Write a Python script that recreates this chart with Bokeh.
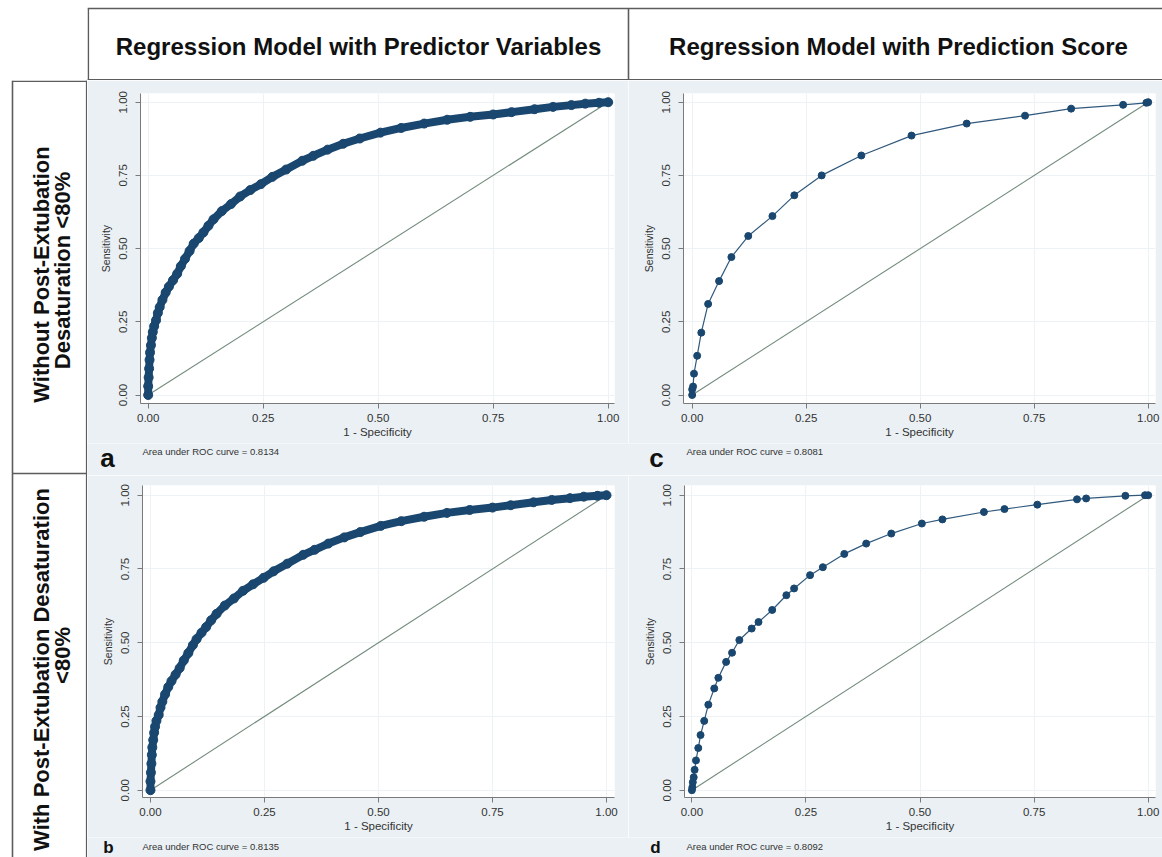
from math import pi
from bokeh.plotting import figure
from bokeh.models import Range1d, FixedTicker, Spacer
from bokeh.layouts import row, column
from bokeh.core.properties import value
from bokeh.embed import file_html
from bokeh.resources import INLINE

# ---------------- data ----------------
tick_vals = [0, 0.25, 0.5, 0.75, 1]
tick_labels = ["0.00", "0.25", "0.50", "0.75", "1.00"]
diag = [0, 1]

col_headers = ["Regression Model with Predictor Variables",
               "Regression Model with Prediction Score"]
row_headers_1 = ["Without  Post-Extubation", "Desaturation <80%"]
row_headers_2 = ["With Post-Extubation Desaturation", "<80%"]
letters = ["a", "b", "c", "d"]
auc_values = ["0.8134", "0.8135", "0.8081", "0.8092"]

# panel a : predictor variables, without desaturation (dense ROC)
a_fpr = [0.000, 0.000, 0.001, 0.002, 0.003, 0.004, 0.006, 0.008, 0.010, 0.013,
         0.017, 0.021, 0.025, 0.031, 0.038, 0.045, 0.054, 0.063, 0.071, 0.080,
         0.090, 0.099, 0.110, 0.120, 0.131, 0.142, 0.160, 0.180, 0.200, 0.222,
         0.245, 0.270, 0.300, 0.335, 0.359, 0.390, 0.424, 0.460, 0.505, 0.550,
         0.600, 0.650, 0.700, 0.750, 0.790, 0.840, 0.880, 0.920, 0.950, 0.980, 1.000]
a_tpr = [0.000, 0.030, 0.060, 0.090, 0.120, 0.145, 0.170, 0.195, 0.215, 0.235,
         0.255, 0.280, 0.300, 0.325, 0.350, 0.370, 0.392, 0.414, 0.440, 0.465,
         0.492, 0.517, 0.536, 0.555, 0.578, 0.600, 0.628, 0.652, 0.678, 0.700,
         0.720, 0.745, 0.770, 0.800, 0.817, 0.838, 0.858, 0.876, 0.896, 0.912,
         0.927, 0.940, 0.950, 0.958, 0.966, 0.976, 0.984, 0.990, 0.995, 0.998, 1.000]

# panel b : predictor variables, with desaturation (dense ROC)
b_fpr = [0.000, 0.000, 0.001, 0.002, 0.003, 0.004, 0.006, 0.008, 0.010, 0.013,
         0.018, 0.022, 0.026, 0.032, 0.039, 0.046, 0.055, 0.064, 0.073, 0.083,
         0.093, 0.101, 0.112, 0.122, 0.133, 0.145, 0.163, 0.183, 0.203, 0.225,
         0.248, 0.270, 0.300, 0.335, 0.360, 0.390, 0.425, 0.460, 0.505, 0.550,
         0.600, 0.650, 0.700, 0.750, 0.790, 0.840, 0.880, 0.920, 0.950, 0.980, 1.000]
b_tpr = [0.000, 0.030, 0.060, 0.090, 0.120, 0.145, 0.170, 0.195, 0.215, 0.235,
         0.255, 0.280, 0.300, 0.325, 0.350, 0.370, 0.392, 0.414, 0.440, 0.465,
         0.492, 0.512, 0.534, 0.553, 0.576, 0.598, 0.626, 0.650, 0.676, 0.698,
         0.720, 0.742, 0.768, 0.798, 0.815, 0.836, 0.857, 0.875, 0.896, 0.912,
         0.927, 0.940, 0.950, 0.958, 0.966, 0.976, 0.984, 0.990, 0.995, 0.998, 1.000]

# panel c : prediction score, without desaturation
c_fpr = [0.000, 0.000, 0.002, 0.004, 0.011, 0.020, 0.035, 0.059, 0.086, 0.123,
         0.176, 0.224, 0.284, 0.371, 0.481, 0.602, 0.730, 0.831, 0.945, 0.996, 1.000]
c_tpr = [0.000, 0.019, 0.029, 0.073, 0.134, 0.213, 0.311, 0.389, 0.471, 0.543,
         0.611, 0.682, 0.750, 0.818, 0.886, 0.927, 0.954, 0.978, 0.991, 0.998, 1.000]

# panel d : prediction score, with desaturation
d_fpr = [0.000, 0.001, 0.002, 0.004, 0.006, 0.009, 0.014, 0.019, 0.027, 0.036,
         0.049, 0.058, 0.075, 0.088, 0.104, 0.131, 0.146, 0.176, 0.207, 0.224,
         0.259, 0.287, 0.334, 0.382, 0.437, 0.504, 0.549, 0.640, 0.685, 0.757,
         0.844, 0.864, 0.950, 0.993, 1.000]
d_tpr = [0.000, 0.010, 0.027, 0.044, 0.069, 0.101, 0.143, 0.187, 0.235, 0.290,
         0.345, 0.381, 0.435, 0.466, 0.509, 0.548, 0.570, 0.611, 0.661, 0.684,
         0.729, 0.756, 0.801, 0.836, 0.870, 0.904, 0.918, 0.943, 0.953, 0.968,
         0.986, 0.989, 0.998, 1.000, 1.000]

# ---------------- style ----------------
NAVY = "#1a476f"
BG = "#eaf0f3"
GRID = "#edf2f4"
REF = "#738c7c"
AXIS = "#7a7a7a"
BORDER = "#5c5c5c"
FONT = "Liberation Sans"
TXT = "#333333"


def make_panel(fpr, tpr, dense, w, h, mbl, mbr, mbt, mbb, xr, yr):
    p = figure(width=w, height=h, x_range=Range1d(*xr), y_range=Range1d(*yr),
               output_backend="svg", toolbar_location=None,
               min_border_left=mbl, min_border_right=mbr,
               min_border_top=mbt, min_border_bottom=mbb,
               background_fill_color="white", border_fill_color=BG,
               outline_line_color=None)
    for ax in (p.xaxis[0], p.yaxis[0]):
        ax.ticker = FixedTicker(ticks=tick_vals)
        ax.major_label_overrides = dict(zip(tick_vals, tick_labels))
        ax.axis_line_color = AXIS
        ax.major_tick_line_color = AXIS
        ax.minor_tick_line_color = None
        ax.major_tick_out = 5
        ax.major_tick_in = 0
        ax.major_label_text_font = FONT
        ax.major_label_text_font_size = "11.5px"
        ax.major_label_text_color = TXT
        ax.axis_label_text_font = FONT
        ax.axis_label_text_font_style = "normal"
        ax.axis_label_text_color = TXT
    p.xaxis.axis_label = "1 - Specificity"
    p.xaxis.axis_label_text_font_size = "11.5px"
    p.xaxis.major_label_standoff = 5
    p.xaxis.axis_label_standoff = 1
    p.yaxis.axis_label = "Sensitivity"
    p.yaxis.axis_label_text_font_size = "10.5px"
    p.yaxis.major_label_orientation = "parallel"
    p.yaxis.major_label_standoff = 8
    p.yaxis.axis_label_standoff = 5
    p.xgrid.ticker = FixedTicker(ticks=tick_vals)
    p.ygrid.ticker = FixedTicker(ticks=tick_vals)
    p.grid.grid_line_color = GRID
    p.grid.grid_line_width = 1

    p.line(diag, diag, line_color=REF, line_width=1.1)
    if dense:
        p.line(fpr, tpr, line_color=NAVY, line_width=8)
        p.scatter(fpr, tpr, size=9, color=NAVY)
    else:
        p.line(fpr, tpr, line_color=NAVY, line_width=1.2, line_alpha=0.9)
        p.scatter(fpr, tpr, size=7, color=NAVY)
    return p


def make_strip(h, lets, lxs, ly, lsize, aucs, txs, ty):
    s = figure(width=1075, height=h, x_range=Range1d(0, 1075), y_range=Range1d(0, h),
               output_backend="svg", toolbar_location=None, min_border=0,
               x_axis_type=None, y_axis_type=None, outline_line_color=None,
               background_fill_color=BG, border_fill_color=BG)
    s.grid.visible = False
    s.text(x=lxs, y=[ly] * len(lets), text=lets, text_font=value(FONT),
           text_font_style="bold", text_font_size=lsize, text_color="#111111",
           text_align="center", text_baseline="middle")
    s.text(x=txs, y=[ty] * len(aucs),
           text=["Area under ROC curve = " + a for a in aucs],
           text_font=value(FONT), text_font_size="9.5px", text_color=TXT,
           text_align="left", text_baseline="middle")
    return s


pa = make_panel(a_fpr, a_tpr, True, 541, 363, 53, 14, 13, 40,
                (-0.0167, 1.0137), (-0.029, 1.0297))
pc = make_panel(c_fpr, c_tpr, False, 534, 363, 55, 7, 13, 40,
                (-0.019, 1.016), (-0.029, 1.0297))
pb = make_panel(b_fpr, b_tpr, True, 541, 362, 55, 14, 10, 40,
                (-0.0175, 1.0175), (-0.0247, 1.0329))
pd_ = make_panel(d_fpr, d_tpr, False, 534, 362, 56, 7, 10, 40,
                 (-0.0162, 1.016), (-0.0247, 1.0329))

strip_top = make_strip(32, [letters[0], letters[2]], [20, 569], 18, "26px",
                       [auc_values[0], auc_values[2]], [55, 599], 24)
strip_bot = make_strip(20, [letters[1], letters[3]], [21, 568], 10, "17px",
                       [auc_values[1], auc_values[3]], [55, 599], 11)

# header row
hdr = figure(width=1075, height=80, x_range=Range1d(0, 1075), y_range=Range1d(0, 80),
             output_backend="svg", toolbar_location=None, min_border=0,
             x_axis_type=None, y_axis_type=None, outline_line_color=None,
             background_fill_color="white", border_fill_color="white")
hdr.grid.visible = False
hdr.segment(x0=[0, 0.8, 541, 0], y0=[72, 0, 0, 0.8], x1=[1075, 0.8, 541, 1075],
            y1=[72, 72, 72, 0.8], line_color=BORDER, line_width=1.6)
hdr.text(x=[271, 811], y=[34, 34], text=col_headers, text_font=value(FONT),
         text_font_style="bold", text_font_size="24px", text_color="#111111",
         text_align="center", text_baseline="middle")

# left row-header column
lft = figure(width=87, height=777, x_range=Range1d(0, 87), y_range=Range1d(0, 777),
             output_backend="svg", toolbar_location=None, min_border=0,
             x_axis_type=None, y_axis_type=None, outline_line_color=None,
             background_fill_color="white", border_fill_color="white")
lft.grid.visible = False
lft.segment(x0=[12, 86.2, 12, 12], y0=[0, 0, 776.2, 384], x1=[12, 86.2, 87, 87],
            y1=[777, 777, 776.2, 384], line_color=BORDER, line_width=1.6)
lft.text(x=[41, 62], y=[586, 587], text=row_headers_1, text_font=value(FONT),
         text_font_style="bold", text_font_size="22px", text_color="#111111",
         text_align="center", text_baseline="middle", angle=pi / 2)
lft.text(x=[41, 62], y=[188, 202], text=row_headers_2, text_font=value(FONT),
         text_font_style="bold", text_font_size="22px", text_color="#111111",
         text_align="center", text_baseline="middle", angle=pi / 2)

layout = column(
    row(Spacer(width=87, height=80), hdr),
    row(lft, column(
        row(pa, pc),
        strip_top,
        row(pb, pd_),
        strip_bot,
    )),
)

open("out.html", "w").write(file_html(layout, INLINE))
